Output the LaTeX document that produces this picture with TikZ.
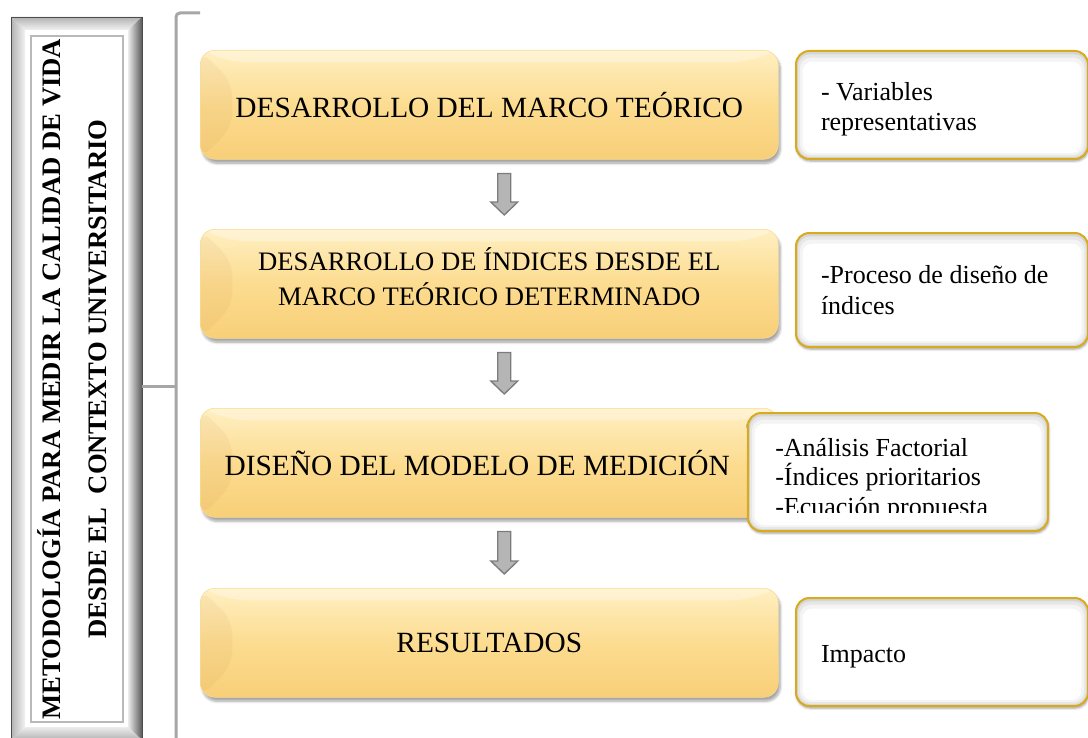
\documentclass[tikz,border=0pt]{standalone}
\usepackage{fontspec}
\setmainfont{Liberation Serif}
\usetikzlibrary{calc,shadows.blur}
\definecolor{steptop}{HTML}{FFEFC2}
\definecolor{stepmid}{HTML}{FCDC90}
\definecolor{stepbot}{HTML}{F8CF78}
\definecolor{steprim}{HTML}{F6DC92}
\definecolor{noterim}{HTML}{D8AA1C}
\definecolor{bracketgray}{HTML}{A6A6A6}
\definecolor{arrowfill}{HTML}{B5B5B5}
\definecolor{arrowrim}{HTML}{7C7C7C}

\begin{document}
\begin{tikzpicture}[
  x=0.75pt,
  y=-0.75pt,
  every node/.style={text=black},
  stepbox/.style={rounded corners=11pt, minimum width=433.5pt,
    minimum height=81.75pt, inner sep=0pt, align=center,
    top color=steptop, bottom color=stepbot, middle color=stepmid,
    draw=steprim, line width=0.4pt,
    blur shadow={shadow xshift=1.5pt, shadow yshift=-3pt,
                 shadow opacity=35, shadow blur steps=6},
    path picture={
      \fill[brown, opacity=0.08] (path picture bounding box.north west)
        -- ++(24pt,-24pt)
        -- ($(path picture bounding box.south west)+(24pt,24pt)$)
        -- (path picture bounding box.south west) -- cycle;
      \fill[white, opacity=0.30] (path picture bounding box.north west)
        -- (path picture bounding box.north east)
        -- ++(-24pt,-9pt)
        -- ($(path picture bounding box.north west)+(24pt,-9pt)$) -- cycle;
    }},
  steptext/.style={font=\fontsize{22}{26}\selectfont},
  notebox/.style={rounded corners=10pt, draw=noterim, line width=1.5pt,
    fill=white, inner ysep=0pt, inner xsep=18.75pt, align=flush left,
    font=\fontsize{19.5}{23}\selectfont,
    blur shadow={shadow xshift=0.5pt, shadow yshift=-1.5pt,
                 shadow opacity=40, shadow blur steps=4},
    path picture={
      \fill[gray!32] (path picture bounding box.north west)
        rectangle (path picture bounding box.south east);
      \fill[gray!19, rounded corners=9pt]
        ([shift={(1.5pt,-2.5pt)}]path picture bounding box.north west)
        rectangle ([shift={(-1.5pt,1.5pt)}]path picture bounding box.south east);
      \fill[gray!9, rounded corners=8pt]
        ([shift={(3pt,-5pt)}]path picture bounding box.north west)
        rectangle ([shift={(-3pt,3pt)}]path picture bounding box.south east);
      \fill[white, rounded corners=7pt]
        ([shift={(5pt,-8pt)}]path picture bounding box.north west)
        rectangle ([shift={(-5pt,4.5pt)}]path picture bounding box.south east);
    }},
  notetext/.style={inner sep=0pt, align=flush left,
    font=\fontsize{19.5}{22}\selectfont},
  flowarrow/.style={fill=arrowfill, draw=arrowrim, line width=1pt,
    to path={($(\tikztostart)+(-6.5,0)$) -- ($(\tikztotarget)+(-6.5,-13)$)
      -- ($(\tikztotarget)+(-13.5,-13)$) -- (\tikztotarget)
      -- ($(\tikztotarget)+(13.5,-13)$) -- ($(\tikztotarget)+(6.5,-13)$)
      -- ($(\tikztostart)+(6.5,0)$) -- cycle}},
  bracket/.style={bracketgray, line width=2.25pt},
  titletext/.style={font=\bfseries\fontsize{20}{34.5}\selectfont,
    align=center, inner sep=0pt}
]
  % ---- page, in pixels of the reference ----
  \useasboundingbox (0,0) rectangle (1088,738);

  % ---- left frame with bevel ----
  \shade[top color=gray!60, bottom color=gray!10]
    (11,17) -- (142,17) -- (128,30) -- (25,30) -- cycle;
  \shade[left color=gray!60, right color=gray!10]
    (11,17) -- (25,30) -- (25,727) -- (11,740) -- cycle;
  \shade[left color=gray!15, right color=gray!70!black]
    (142,17) -- (142,740) -- (128,727) -- (128,30) -- cycle;
  \shade[top color=gray!15, bottom color=gray!60]
    (11,740) -- (142,740) -- (128,727) -- (25,727) -- cycle;
  \draw[gray!60!black, line width=0.6pt] (11,17) rectangle (142,740);
  \draw[gray!55, line width=0.8pt] (31,36) rectangle (123,722);
  \node[titletext, rotate=90] (titulo) at (72,379)
    {METODOLOGÍA PARA MEDIR LA CALIDAD DE VIDA\\
     DESDE EL\ \ CONTEXTO UNIVERSITARIO};

  % ---- bracket ----
  \draw[bracket, rounded corners=3pt] (200,13) -| (176,745);
  \draw[bracket] (142,386) -- (176,386);

  % ---- steps ----
  \node[stepbox, steptext, anchor=north west] (marco) at (200,50)
    {DESARROLLO DEL MARCO TEÓRICO};
  \node[stepbox, anchor=north west, font=\fontsize{20}{26}\selectfont]
    (indices) at (200,229)
    {DESARROLLO DE ÍNDICES DESDE EL\\ MARCO TEÓRICO DETERMINADO\\[-15.5pt]\mbox{}};
  \node[stepbox, steptext, anchor=north west] (modelo) at (200,408)
    {\hspace*{-18pt}DISEÑO DEL MODELO DE MEDICIÓN};
  \node[stepbox, steptext, anchor=north west] (resultados) at (200,588)
    {RESULTADOS};

  % ---- arrows between steps ----
  \draw[flowarrow] ([xshift=11.25pt,yshift=-10.5pt]marco.south)
    to ([xshift=11.25pt,yshift=10.5pt]indices.north);
  \draw[flowarrow] ([xshift=11.25pt,yshift=-10.5pt]indices.south)
    to ([xshift=11.25pt,yshift=10.5pt]modelo.north);
  \draw[flowarrow] ([xshift=11.25pt,yshift=-10.5pt]modelo.south)
    to ([xshift=11.25pt,yshift=10.5pt]resultados.north);

  % ---- notes ----
  \node[notebox, anchor=north west, minimum width=219pt,
    minimum height=81pt, text width=181.5pt] (nvariables) at (795,50)
    {\rule{0pt}{20pt}- Variables\\ representativas};
  \node[notebox, anchor=north west, minimum width=219pt,
    minimum height=85.5pt, text width=181.5pt] (nproceso) at (795,232)
    {-Proceso de diseño de\\ índices};
  \node[notebox, anchor=north west, minimum width=225pt,
    minimum height=88.5pt] (nmodelo) at (747,412) {};
  \begin{scope}
    \clip (nmodelo.north west) rectangle ([yshift=15pt]nmodelo.south east);
    \node[notetext, anchor=north west] (nmodelotxt)
      at ([xshift=21pt,yshift=-19.5pt]nmodelo.north west)
      {-Análisis Factorial\\ -Índices prioritarios\\ -Ecuación propuesta};
  \end{scope}
  \node[notebox, anchor=north west, minimum width=219pt,
    minimum height=81pt, text width=181.5pt] (nimpacto) at (795,597)
    {\rule{0pt}{20.5pt}Impacto};
\end{tikzpicture}
\end{document}
